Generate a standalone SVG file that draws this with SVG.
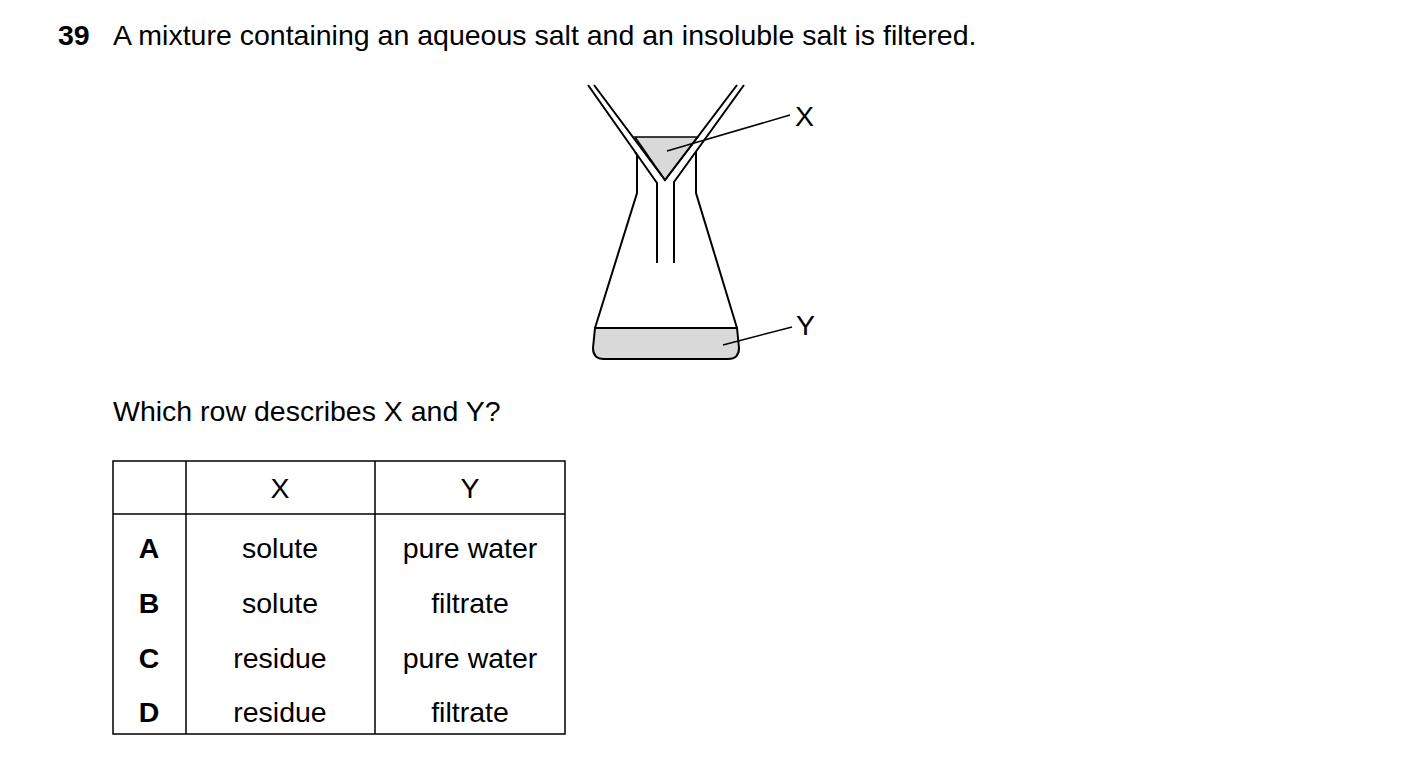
<svg xmlns="http://www.w3.org/2000/svg" width="1403" height="781" viewBox="0 0 1403 781">
<style>
text{font-family:"Liberation Sans",Arial,sans-serif;font-size:28.5px;fill:#000}
.c{text-anchor:middle}
.b{font-weight:bold}
.l{stroke:#000;stroke-width:2;fill:none}
.g{stroke:#000;stroke-width:2;fill:#d9d9d9}
.t{stroke:#000;stroke-width:1.5;fill:none}
</style>
<rect width="1403" height="781" fill="#fff"/>
<text x="58" y="45" class="b">39</text>
<text x="113" y="45">A mixture containing an aqueous salt and an insoluble salt is filtered.</text>
<g id="apparatus">
<path d="M595,328 L637,193 L637,155 L635,152 M696,152 L696,155 L696,193 L737,328" class="l"/>
<path d="M595,328 L737,328 L739,348 Q739,359 728,359 L604,359 Q593,359 593,348 Z" class="g"/>
<path d="M635,137 L698,137 L665,180 Z" fill="#d9d9d9" stroke="#000" stroke-width="1.5"/>
<path d="M594,85 L665,180 L737,85" class="l"/>
<path d="M588,85 L657,183 L657,263 M674,263 L674,182 L744,85" class="l"/>
</g>
<g id="connectors">
<line x1="667" y1="151" x2="790" y2="115" class="t"/>
<line x1="723" y1="345" x2="792" y2="327" class="t"/>
</g>
<text x="795" y="126">X</text>
<text x="796" y="335">Y</text>
<text x="113" y="421">Which row describes X and Y?</text>
<g id="table">
<rect x="113" y="461" width="452" height="273" class="t"/>
<line x1="186" y1="461" x2="186" y2="734" class="t"/>
<line x1="375" y1="461" x2="375" y2="734" class="t"/>
<line x1="113" y1="514" x2="565" y2="514" class="t"/>
<text x="280" y="498" class="c">X</text>
<text x="470" y="498" class="c">Y</text>
<text x="149" y="558" class="c b">A</text>
<text x="280" y="558" class="c">solute</text>
<text x="470" y="558" class="c">pure water</text>
<text x="149" y="613" class="c b">B</text>
<text x="280" y="613" class="c">solute</text>
<text x="470" y="613" class="c">filtrate</text>
<text x="149" y="668" class="c b">C</text>
<text x="280" y="668" class="c">residue</text>
<text x="470" y="668" class="c">pure water</text>
<text x="149" y="722" class="c b">D</text>
<text x="280" y="722" class="c">residue</text>
<text x="470" y="722" class="c">filtrate</text>
</g>
</svg>
